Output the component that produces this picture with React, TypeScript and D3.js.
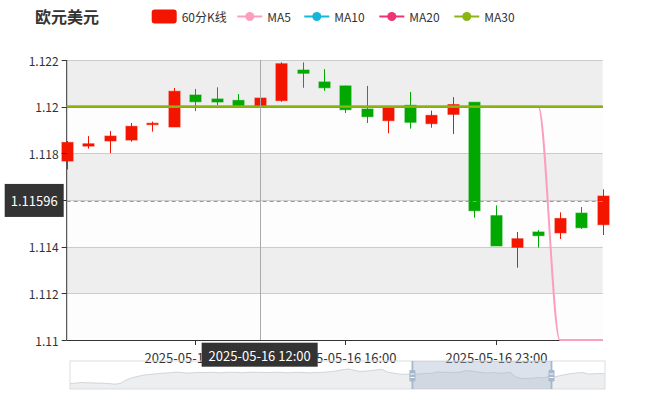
import React from 'react';
import * as d3 from 'd3';

const title = '欧元美元';
const legendNames = ['60分K线', 'MA5', 'MA10', 'MA20', 'MA30'];
const legendColors = ['#f41500', '#fc9fbc', '#14b7d8', '#ee3472', '#8cb512'];

const times = [
  '2025-05-16 03:00', '2025-05-16 04:00', '2025-05-16 05:00', '2025-05-16 06:00',
  '2025-05-16 07:00', '2025-05-16 08:00', '2025-05-16 09:00', '2025-05-16 10:00',
  '2025-05-16 11:00', '2025-05-16 12:00', '2025-05-16 13:00', '2025-05-16 14:00',
  '2025-05-16 15:00', '2025-05-16 16:00', '2025-05-16 17:00', '2025-05-16 18:00',
  '2025-05-16 19:00', '2025-05-16 20:00', '2025-05-16 21:00', '2025-05-16 22:00',
  '2025-05-16 23:00', '2025-05-17 00:00', '2025-05-17 01:00', '2025-05-17 02:00',
  '2025-05-17 03:00', '2025-05-17 04:00',
];
const opens = [1.11767, 1.11831, 1.11853, 1.11857, 1.11923, 1.11913, 1.1205, 1.12033, 1.12027, 1.11999, 1.12026, 1.12157, 1.12106, 1.12089, 1.1199, 1.1194, 1.12006, 1.11927, 1.11967, 1.12019, 1.11533, 1.11397, 1.11463, 1.11459, 1.11544, 1.11494];
const closes = [1.11847, 1.11841, 1.11874, 1.11916, 1.11929, 1.12066, 1.12021, 1.1202, 1.12004, 1.12037, 1.12184, 1.12143, 1.12081, 1.11987, 1.11957, 1.11999, 1.11933, 1.11963, 1.12009, 1.11554, 1.11403, 1.11434, 1.11447, 1.11521, 1.11481, 1.11617];
const lows = [1.11731, 1.1182, 1.11801, 1.1185, 1.11893, 1.11913, 1.11981, 1.12007, 1.11996, 1.11961, 1.12021, 1.12081, 1.12068, 1.11973, 1.1193, 1.11886, 1.11906, 1.1191, 1.11883, 1.11524, 1.11403, 1.1131, 1.11396, 1.11433, 1.11476, 1.1145];
const highs = [1.11853, 1.11874, 1.11896, 1.1193, 1.11936, 1.1208, 1.12076, 1.12083, 1.12054, 1.12037, 1.1219, 1.1219, 1.12161, 1.1209, 1.12089, 1.12, 1.12063, 1.11983, 1.12041, 1.12019, 1.11577, 1.11463, 1.11471, 1.11547, 1.1157, 1.11646];

const ma5 = [1.12, 1.12, 1.12, 1.12, 1.12, 1.12, 1.12, 1.12, 1.12, 1.12, 1.12, 1.12, 1.12, 1.12, 1.12, 1.12, 1.12, 1.12, 1.12, 1.12, 1.12, 1.12, 1.12, 1.1, 1.1, 1.1];
const ma10 = [1.12, 1.12, 1.12, 1.12, 1.12, 1.12, 1.12, 1.12, 1.12, 1.12, 1.12, 1.12, 1.12, 1.12, 1.12, 1.12, 1.12, 1.12, 1.12, 1.12, 1.12, 1.12, 1.12, 1.12, 1.12, 1.12];
const ma20 = [1.12, 1.12, 1.12, 1.12, 1.12, 1.12, 1.12, 1.12, 1.12, 1.12, 1.12, 1.12, 1.12, 1.12, 1.12, 1.12, 1.12, 1.12, 1.12, 1.12, 1.12, 1.12, 1.12, 1.12, 1.12, 1.12];
const ma30 = [1.12, 1.12, 1.12, 1.12, 1.12, 1.12, 1.12, 1.12, 1.12, 1.12, 1.12, 1.12, 1.12, 1.12, 1.12, 1.12, 1.12, 1.12, 1.12, 1.12, 1.12, 1.12, 1.12, 1.12, 1.12, 1.12];

const yTicks = [1.11, 1.112, 1.114, 1.116, 1.118, 1.12, 1.122];
const xTickIndices = [6, 13, 20];
const pointerIndex = 9;
const pointerValue = 1.11596;

// closes of the full series as seen in the data-zoom overview (before / after the visible window)
const overviewBefore = [
  1.1093, 1.1097, 1.1102, 1.11, 1.1099, 1.1097, 1.1096, 1.1093, 1.1087, 1.1093,
  1.1125, 1.1147, 1.1161, 1.1173, 1.118, 1.1185, 1.119, 1.1195, 1.1198, 1.1204,
  1.12, 1.1195, 1.1198, 1.1201, 1.1199, 1.1202, 1.12, 1.1197, 1.1201, 1.1203,
  1.12, 1.1198, 1.1202, 1.1204, 1.1201, 1.1199, 1.12, 1.1203, 1.1201, 1.1198,
  1.12, 1.1202, 1.1199, 1.1197, 1.12, 1.1201, 1.1205, 1.121, 1.1218, 1.1228,
  1.1234, 1.1222, 1.1211, 1.1215, 1.1218, 1.1226, 1.123, 1.1204, 1.1195, 1.1185, 1.1183,
];
const overviewAfter = [1.1159, 1.117, 1.1182, 1.119, 1.1196, 1.1201, 1.1185, 1.1188, 1.119, 1.1188];
const zoomStart = 64;
const zoomEnd = 90;

const FONT = "'Microsoft YaHei', 'Noto Sans CJK SC', 'Noto Sans', sans-serif";
const UP = '#f41500';
const DOWN = '#00a800';

export default function App() {
  const left = 66.7, right = 602.7, top = 60, bottom = 340;
  const x = d3.scalePoint<string>().domain(times).range([left, right]);
  const y = d3.scaleLinear().domain([1.11, 1.122]).range([bottom, top]);
  const yc = d3.scaleLinear().domain([1.11, 1.122]).range([bottom, top]).clamp(true);
  const step = x.step();
  const bw = step * 0.52;

  const lineGen = (vals: number[]) =>
    d3.line<number>().x((_, i) => x(times[i]) as number).y((v) => yc(v)).curve(d3.curveMonotoneX)(vals) || '';

  const overview = [...overviewBefore, ...closes, ...overviewAfter];
  const sTop = 361, sBot = 389, sLeft = 70, sRight = 605;
  const sx = d3.scaleLinear().domain([0, overview.length - 1]).range([sLeft, sRight]);
  const sy = d3.scaleLinear().domain([1.1039, 1.1312]).range([sBot, sTop]);
  const area = d3.area<number>().x((_, i) => sx(i)).y0(sBot).y1((v) => sy(v))(overview) || '';
  const sline = d3.line<number>().x((_, i) => sx(i)).y((v) => sy(v))(overview) || '';
  const pct = d3.scaleLinear().domain([0, 100]).range([sLeft, sRight]);
  const hx0 = pct(zoomStart), hx1 = pct(zoomEnd);

  const legendX0 = 151.7;
  const legendTextW = [45.6, 27, 35, 35, 35];
  let lx = legendX0;
  const legendItems = legendNames.map((n, i) => {
    const item = { name: n, color: legendColors[i], x: lx, i };
    lx += 25 + 5 + legendTextW[i] + 10;
    return item;
  });

  const bands = yTicks.slice(0, -1).map((t, i) => ({ y0: y(yTicks[i + 1]), y1: y(t), gray: i % 2 === 1 }));
  const px = x(times[pointerIndex]) as number;
  const py = y(pointerValue);

  return (
    <div style={{ position: 'fixed', left: 0, top: 0 }}>
      <svg width={670} height={400} style={{ display: 'block', fontFamily: FONT }}>
        <rect x={0} y={0} width={670} height={400} fill="#fff" />
        <text x={35} y={23} fontSize={16} fontWeight="bold" fill="#333">{title}</text>

        {legendItems.map((it) => (
          <g key={it.name}>
            {it.i === 0 ? (
              <rect x={it.x} y={9.5} width={25} height={14} rx={3} fill={it.color} />
            ) : (
              <g>
                <line x1={it.x} x2={it.x + 25} y1={16.5} y2={16.5} stroke={it.color} strokeWidth={2} />
                <circle cx={it.x + 12.5} cy={16.5} r={4.5} fill={it.color} />
              </g>
            )}
            <text x={it.x + 30} y={16.5} dominantBaseline="central" fontSize={12} fill="#333">{it.name}</text>
          </g>
        ))}

        {bands.map((b, i) => (
          <rect key={i} x={left} y={b.y0} width={right - left} height={b.y1 - b.y0} fill={b.gray ? '#eeeeee' : '#fdfdfd'} />
        ))}
        {yTicks.slice(1).map((t) => (
          <line key={t} x1={left} x2={right} y1={Math.round(y(t)) + 0.5} y2={Math.round(y(t)) + 0.5} stroke="#ccc" />
        ))}

        {/* axis lines (under the series) */}
        <line x1={left} x2={left} y1={top} y2={bottom} stroke="#333" />
        <line x1={left} x2={right} y1={bottom + 0.5} y2={bottom + 0.5} stroke="#333" />

        {times.map((t, i) => {
          const cx = Math.round(x(t) as number) + 0.5;
          const up = closes[i] >= opens[i];
          const c = up ? UP : DOWN;
          const yt = y(Math.max(opens[i], closes[i]));
          const yb = y(Math.min(opens[i], closes[i]));
          return (
            <g key={t}>
              <line x1={cx} x2={cx} y1={y(highs[i])} y2={y(lows[i])} stroke={c} strokeWidth={1} />
              <rect x={cx - bw / 2} y={yt} width={bw} height={Math.max(1, yb - yt)} fill={c} stroke={c} strokeWidth={1} strokeOpacity={0.6} />
            </g>
          );
        })}

        <defs>
          <clipPath id="plotClip">
            <rect x={left - 1} y={top - 2} width={right - left + 2} height={bottom - top + 4} />
          </clipPath>
        </defs>
        <g clipPath="url(#plotClip)" fill="none" strokeWidth={2}>
          <path d={lineGen(ma5)} stroke={legendColors[1]} />
          <path d={lineGen(ma10)} stroke={legendColors[2]} />
          <path d={lineGen(ma20)} stroke={legendColors[3]} />
          <path d={lineGen(ma30)} stroke={legendColors[4]} />
        </g>

        {yTicks.map((t) => (
          <g key={t}>
            <line x1={left - 5} x2={left} y1={Math.round(y(t)) + 0.5} y2={Math.round(y(t)) + 0.5} stroke="#333" />
            <text x={left - 8} y={y(t)} textAnchor="end" dominantBaseline="central" fontSize={12} fill="#333">
              {String(+t.toFixed(3))}
            </text>
          </g>
        ))}
        {xTickIndices.map((i) => {
          const tx = Math.round(x(times[i]) as number) + 0.5;
          return (
            <g key={i}>
              <line x1={tx} x2={tx} y1={bottom} y2={bottom + 5} stroke="#333" />
              <text x={tx} y={357.5} textAnchor="middle" dominantBaseline="central" fontSize={13} fill="#333">{times[i]}</text>
            </g>
          );
        })}

        {/* data zoom */}
        <path d={area} fill="rgba(47,69,84,0.09)" />
        <path d={sline} fill="none" stroke="rgba(47,69,84,0.3)" strokeWidth={0.6} />
        <rect x={sLeft} y={sTop} width={sRight - sLeft} height={sBot - sTop} fill="none" stroke="#ddd" />
        <rect x={hx0} y={sTop} width={hx1 - hx0} height={sBot - sTop} fill="rgba(167,183,204,0.4)" />
        {[hx0, hx1].map((hx, i) => (
          <g key={i}>
            <rect x={hx - 0.9} y={sTop} width={1.8} height={sBot - sTop} fill="#a7b7cc" />
            <rect x={hx - 3} y={370} width={6} height={11.5} rx={1} fill="#a7b7cc" />
            <line x1={hx - 2} x2={hx + 2} y1={374} y2={374} stroke="#fff" strokeWidth={1} />
            <line x1={hx - 2} x2={hx + 2} y1={377.5} y2={377.5} stroke="#fff" strokeWidth={1} />
          </g>
        ))}

        {/* cross pointer */}
        <line x1={Math.round(px) + 0.5} x2={Math.round(px) + 0.5} y1={top} y2={bottom} stroke="#aaa" />
        <line x1={left} x2={right} y1={Math.round(py) + 0.5} y2={Math.round(py) + 0.5} stroke="#999" strokeDasharray="4,3" />
        <rect x={left - 62} y={py - 17} width={59} height={33} fill="#333" />
        <text x={left - 32.5} y={py} textAnchor="middle" dominantBaseline="central" fontSize={13} fill="#fff">
          {pointerValue.toFixed(5)}
        </text>
        <rect x={px - 58} y={342.7} width={116} height={24} fill="#333" />
        <text x={px} y={355} textAnchor="middle" dominantBaseline="central" fontSize={13} fill="#fff">{times[pointerIndex]}</text>
      </svg>
    </div>
  );
}
